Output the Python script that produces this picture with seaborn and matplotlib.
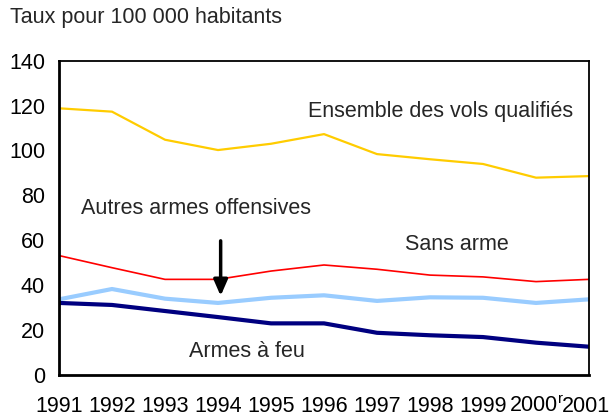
import matplotlib
matplotlib.use("Agg")
import matplotlib.pyplot as plt
import matplotlib.transforms as mtransforms
import seaborn as sns
import pandas as pd

years = [1991, 1992, 1993, 1994, 1995, 1996, 1997, 1998, 1999, 2000, 2001]
year_labels = ["1991", "1992", "1993", "1994", "1995", "1996", "1997", "1998", "1999",
               r"2000$^{\mathregular{r}}$", "2001"]
ensemble = [118.8, 117.3, 104.8, 100.2, 103.0, 107.3, 98.4, 96.1, 94.0, 87.9, 88.6]
sans_arme = [53.2, 47.8, 42.6, 42.6, 46.3, 49.0, 47.1, 44.5, 43.7, 41.6, 42.6]
autres_armes = [33.7, 38.3, 34.0, 32.1, 34.4, 35.5, 33.0, 34.6, 34.4, 32.1, 33.7]
armes_feu = [32.1, 31.2, 28.5, 25.8, 23.0, 23.0, 18.8, 17.7, 16.9, 14.4, 12.6]

series_names = ["Ensemble des vols qualifiés", "Sans arme", "Autres armes offensives", "Armes à feu"]
series_values = [ensemble, sans_arme, autres_armes, armes_feu]

sns.set_theme(style="white")
plt.rcParams['font.family'] = ['Liberation Sans', 'DejaVu Sans']
plt.rcParams['mathtext.fontset'] = 'custom'
plt.rcParams['mathtext.rm'] = 'Liberation Sans'

rows = []
for name, vals in zip(series_names, series_values):
    for y, v in zip(years, vals):
        rows.append({"Année": y, "Taux": v, "Série": name})
df = pd.DataFrame(rows)

fig = plt.figure(figsize=(6.11, 4.16), dpi=100)
ax = fig.add_axes([59/611, 1 - 375/416, (589 - 59)/611, (375 - 60.7)/416])

palette = {"Ensemble des vols qualifiés": "#FFCC00", "Sans arme": "#FF0000",
           "Autres armes offensives": "#99CCFF", "Armes à feu": "#000080"}
widths = {"Ensemble des vols qualifiés": 1.6, "Sans arme": 1.2,
          "Autres armes offensives": 3.0, "Armes à feu": 3.0}
for name in series_names:
    sns.lineplot(data=df[df["Série"] == name], x="Année", y="Taux", color=palette[name],
                 linewidth=widths[name], ax=ax, legend=False)

ax.set_xlim(1991, 2001)
ax.set_ylim(0, 140)
ax.set_yticks(range(0, 141, 20))
ax.set_xticks(years)
ax.set_xticklabels(year_labels)
ax.set_xlabel("")
ax.set_ylabel("")
ax.tick_params(axis="both", direction="in", length=6, width=1.2, color="black",
               labelsize=15.5, labelcolor="black")
ax.tick_params(axis="x", pad=15)
ax.tick_params(axis="y", pad=10)
for s in ["left", "bottom"]:
    ax.spines[s].set_linewidth(2)
    ax.spines[s].set_color("black")
for s in ["top", "right"]:
    ax.spines[s].set_linewidth(1.3)
    ax.spines[s].set_color("black")

# nudge the last year label so it stays inside the picture
last = ax.get_xticklabels()[-1]
last.set_transform(last.get_transform() + mtransforms.ScaledTranslation(-3/100, 0, fig.dpi_scale_trans))

fig.text(10/611, 1 - 18/416, "Taux pour 100 000 habitants", fontsize=15.5, va="center", ha="left")
ax.text(1998.2, 117.5, "Ensemble des vols qualifiés", fontsize=15.5, ha="center", va="center")
ax.text(1993.58, 74.0, "Autres armes offensives", fontsize=15.5, ha="center", va="center")
ax.text(1998.5, 58.0, "Sans arme", fontsize=15.5, ha="center", va="center")
ax.text(1994.54, 10.5, "Armes à feu", fontsize=15.5, ha="center", va="center")
ax.annotate("", xy=(1994.05, 34), xytext=(1994.05, 61),
            arrowprops=dict(arrowstyle="-|>,head_width=0.35,head_length=0.8", color="black", lw=2.5))

fig.savefig("out.png", dpi=100)
